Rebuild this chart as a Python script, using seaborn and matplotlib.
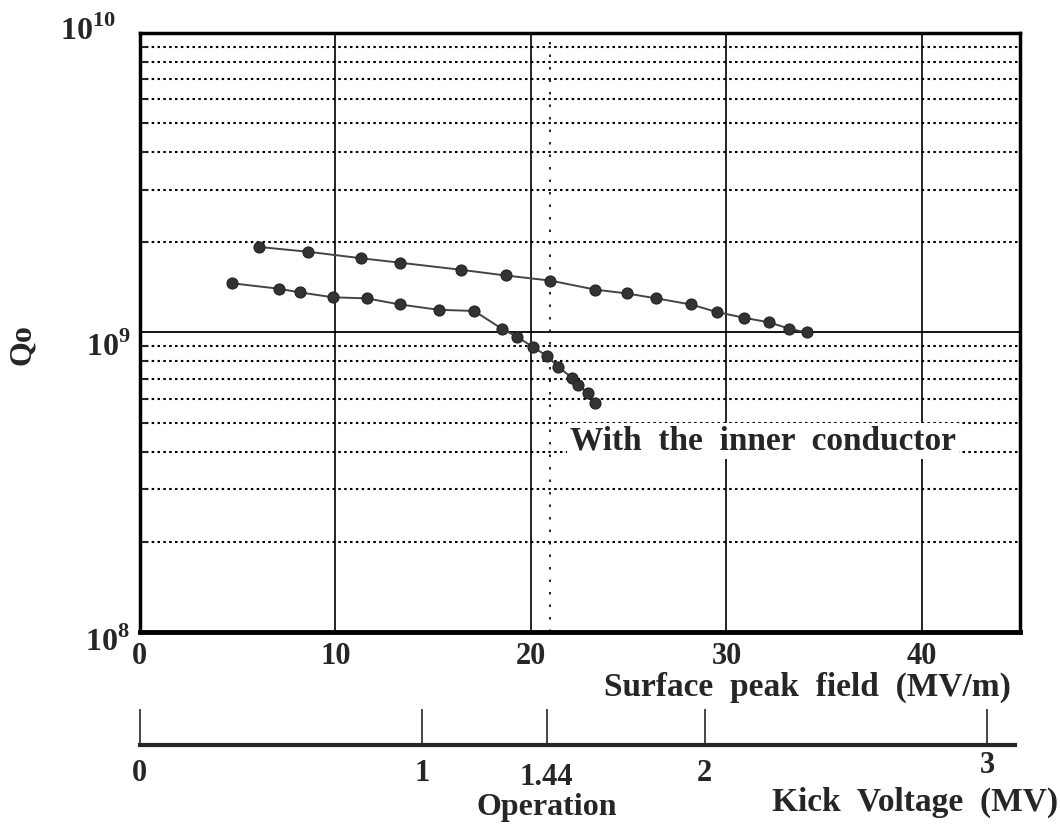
import numpy as np
import pandas as pd
import matplotlib
matplotlib.use("Agg")
import matplotlib.pyplot as plt
import matplotlib.transforms as mtrans
import seaborn as sns

# ---- data ----
field_upper = [6.1, 8.6, 11.3, 13.3, 16.4, 18.7, 21.0, 23.3, 24.9, 26.4, 28.2, 29.5, 30.9, 32.2, 33.2, 34.1]
q_upper = [1.93e9, 1.86e9, 1.77e9, 1.71e9, 1.62e9, 1.55e9, 1.49e9, 1.39e9, 1.35e9, 1.30e9,
           1.24e9, 1.17e9, 1.12e9, 1.08e9, 1.03e9, 1.00e9]
field_lower = [4.7, 7.1, 8.2, 9.9, 11.6, 13.3, 15.3, 17.1, 18.5, 19.3, 20.1, 20.8, 21.4, 22.1, 22.4, 22.9, 23.3]
q_lower = [1.46e9, 1.40e9, 1.36e9, 1.31e9, 1.30e9, 1.24e9, 1.19e9, 1.18e9, 1.03e9, 0.966e9,
           0.895e9, 0.836e9, 0.768e9, 0.705e9, 0.668e9, 0.629e9, 0.582e9]
field_ticks = [0, 10, 20, 30, 40]
kick_ticks = [0, 1, 1.44, 2, 3]
kick_labels = ["0", "1", "1.44", "2", "3"]
operation_field = 21.0
annotation = "With  the  inner  conductor"

sns.set_style("white")
plt.rcParams["font.family"] = ["Liberation Serif", "DejaVu Serif"]
plt.rcParams["font.weight"] = "bold"
plt.rcParams["mathtext.fontset"] = "custom"
plt.rcParams["mathtext.rm"] = "Liberation Serif:bold"
plt.rcParams["mathtext.bf"] = "Liberation Serif:bold"

fig = plt.figure(figsize=(10.6, 8.26), dpi=100)
ax = fig.add_axes([0.132, 0.235, 0.830, 0.725])

df_u = pd.DataFrame({"field": field_upper, "Q": q_upper})
df_l = pd.DataFrame({"field": field_lower, "Q": q_lower})
for d in (df_u, df_l):
    sns.lineplot(data=d, x="field", y="Q", ax=ax, color="#444444", lw=1.4,
                 marker="o", markersize=8, markerfacecolor="#333333",
                 markeredgecolor="#222222", zorder=5)

ax.set_yscale("log")
ax.set_ylim(1e8, 1e10)
ax.set_xlim(0, 45)
ax.set_xticks(field_ticks)
ax.set_xticklabels([str(t) for t in field_ticks], fontsize=22, fontweight="bold")
ax.set_yticks([1e8, 1e9, 1e10])
ax.set_yticklabels([r"$10^{8}$", r"$10^{9}$", r"$10^{10}$"], fontsize=23)
ax.tick_params(axis="both", which="major", length=0, pad=7)
ax.tick_params(axis="y", which="minor", direction="in", length=5, width=1.5, left=True)
ax.set_yticks([m * 10 ** e for e in (8, 9) for m in range(2, 10)], minor=True)
ax.set_yticklabels([], minor=True)
ylabs = ax.get_yticklabels()
ylabs[0].set_transform(ylabs[0].get_transform() + mtrans.ScaledTranslation(0, -5 / 72, fig.dpi_scale_trans))
ylabs[1].set_transform(ylabs[1].get_transform() + mtrans.ScaledTranslation(0, -8 / 72, fig.dpi_scale_trans))
ylabs[2].set_transform(ylabs[2].get_transform() + mtrans.ScaledTranslation(-10 / 72, 4 / 72, fig.dpi_scale_trans))

ax.grid(True, which="major", axis="x", color="black", lw=1.2)
ax.grid(True, which="minor", axis="y", color="black", lw=1.5, ls=(0, (1.2, 1.6)))
ax.axhline(1e9, color="black", lw=1.3, zorder=1)
ax.axvline(operation_field, color="black", lw=1.2, ls=(0, (1.5, 6)), zorder=1)
for s in ax.spines.values():
    s.set_linewidth(2.5)
    s.set_color("black")
ax.spines["bottom"].set_linewidth(3.5)

ax.set_xlabel("Surface  peak  field  (MV/m)", fontsize=24, fontweight="bold")
ax.xaxis.set_label_coords(0.99, -0.093)
ax.xaxis.label.set_ha("right")
ax.xaxis.label.set_va("center")
ax.set_ylabel("Qo", fontsize=23, fontweight="bold")
ax.yaxis.set_label_coords(-0.133, 0.479)
ax.yaxis.label.set_va("center")

ax.text(22.0, 4.35e8, annotation, fontsize=24, fontweight="bold", va="center", ha="left",
        bbox=dict(facecolor="white", edgecolor="none", pad=2), zorder=6)

# ---- secondary kick-voltage axis ----
ax2 = fig.add_axes([0.132, 0.098, 0.826, 0.001])
ax2.set_xlim(0, 3.10)
ax2.set_ylim(0, 1)
ax2.set_yticks([])
for side in ("left", "right", "top"):
    ax2.spines[side].set_visible(False)
ax2.spines["bottom"].set_linewidth(3)
ax2.set_xticks(kick_ticks)
ax2.set_xticklabels(kick_labels, fontsize=22, fontweight="bold")
ax2.tick_params(axis="x", direction="in", length=26, width=1.2, pad=10, bottom=True)
ax2.patch.set_alpha(0)
klabs = ax2.get_xticklabels()
klabs[2].set_transform(klabs[2].get_transform() + mtrans.ScaledTranslation(0, -3 / 72, fig.dpi_scale_trans))
klabs[4].set_transform(klabs[4].get_transform() + mtrans.ScaledTranslation(0, 6 / 72, fig.dpi_scale_trans))
fig.text(140 / 1060 + 1.44 * 0.826 / 3.10, 1 - 807 / 826, "Operation", ha="center", va="center",
         fontsize=23, fontweight="bold")
fig.text(0.998, 1 - 802 / 826, "Kick  Voltage  (MV)", ha="right", va="center", fontsize=24, fontweight="bold")

fig.savefig("out.png", dpi=100, facecolor="white")
